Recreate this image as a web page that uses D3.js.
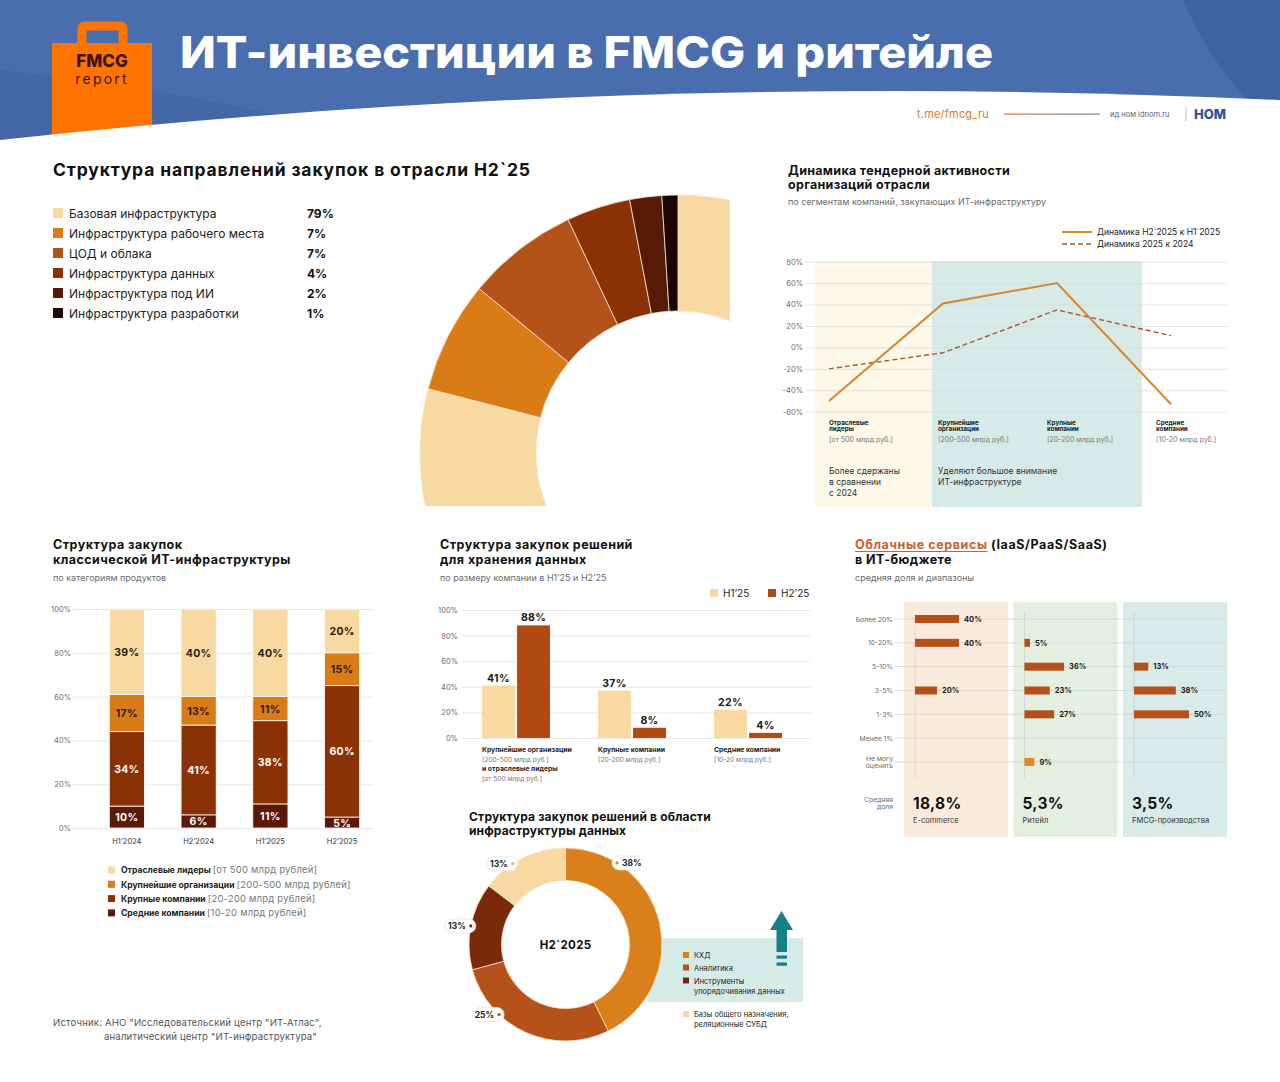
<!DOCTYPE html>
<html><head><meta charset="utf-8">
<script src="https://cdn.jsdelivr.net/npm/d3@7"></script>
<style>
body{margin:0;background:#fff}
svg{display:block}
text{font-family:Inter,"Noto Sans",sans-serif}
</style>
</head><body>
<svg id="c" width="1280" height="1082"></svg>
<script>
// ---------------- DATA ----------------
const directions = ["Базовая инфраструктура","Инфраструктура рабочего места","ЦОД и облака","Инфраструктура данных","Инфраструктура под ИИ","Инфраструктура разработки"];
const directionShares = [79,7,7,4,2,1];

const tenderSegments = ["Отраслевые лидеры","Крупнейшие организации","Крупные компании","Средние компании"];
const tenderSegLines = [["Отраслевые","лидеры"],["Крупнейшие","организации"],["Крупные","компании"],["Средние","компании"]];
const tenderSegRanges = ["[от 500 млрд руб.]","[200-500 млрд руб.]","[20-200 млрд руб.]","[10-20 млрд руб.]"];
const tenderH2vsH1 = [-50,41,60,-53];
const tender2025vs2024 = [-20,-5,35,11];
const tenderTicks = [80,60,40,20,0,-20,-40,-60];
const tenderLegend = ["Динамика H2`2025 к H1`2025","Динамика 2025 к 2024"];

const periods = ["H1’2024","H2’2024","H1’2025","H2’2025"];
const classicMid = [10,6,11,5];
const classicLarge = [34,41,38,60];
const classicLargest = [17,13,11,15];
const classicLeaders = [39,40,40,20];
const classicLegendNames = ["Отраслевые лидеры","Крупнейшие организации","Крупные компании","Средние компании"];
const classicLegendRanges = ["[от 500 млрд рублей]","[200-500 млрд рублей]","[20-200 млрд рублей]","[10-20 млрд рублей]"];
const pctTicks = [0,20,40,60,80,100];

const storageGroups = ["Крупнейшие организации","Крупные компании","Средние компании"];
const storageSeries = ["H1’25","H2’25"];
const storageH1 = [41,37,22];
const storageH2 = [88,8,4];

const cloudRanges = ["Более 20%","10-20%","5-10%","3-5%","1-3%","Менее 1%","Не могу оценить"];
const cloudSectors = ["E-commerce","Ритейл","FMCG-производства"];
const cloudEcom = [40,40,null,20,null,null,null];
const cloudRetail = [null,5,36,23,27,null,9];
const cloudFmcg = [null,null,13,38,50,null,null];
const cloudAvg = ["18,8%","5,3%","3,5%"];

const dataInfraCats = ["КХД","Аналитика","Инструменты упорядочивания данных","Базы общего назначения, реляционные СУБД"];
const dataInfraShares = [38,25,13,13];

// ---------------- STYLE ----------------
const C = {beige:"#F8D9A2", orange:"#D97C18", rust:"#B3531A", brown:"#8A3206", dark:"#561A07", black:"#1C0604"};
const dirColors = [C.beige,C.orange,C.rust,C.brown,C.dark,C.black];
const svg = d3.select("#c");
const gray = "#6b6b6b";
const LS = 0.45; // title letter spacing

// ---------------- HEADER ----------------
const hdr = svg.append("g");
hdr.append("rect").attr("x",0).attr("y",0).attr("width",1280).attr("height",150).attr("fill","#4A6EAD");
hdr.append("path").attr("d","M0,70 Q200,90 420,150 L0,150 Z").attr("fill","#4467A8");
hdr.append("circle").attr("cx",1480).attr("cy",-120).attr("r",320).attr("fill","#3F62A3");
hdr.append("rect").attr("x",82).attr("y",26).attr("width",41).attr("height",30).attr("rx",2)
  .attr("fill","none").attr("stroke","#FF7300").attr("stroke-width",9);
hdr.append("rect").attr("x",52).attr("y",43).attr("width",100).attr("height",100).attr("fill","#FF7300");
hdr.append("text").attr("x",102).attr("y",67).attr("text-anchor","middle").attr("font-size",17).attr("font-weight",800)
  .attr("fill","#3B1408").text("FMCG");
hdr.append("text").attr("x",102).attr("y",84).attr("text-anchor","middle").attr("font-size",14).attr("letter-spacing",2.2)
  .attr("fill","#3B1408").text("report");
svg.append("path").attr("d","M0,140 Q640,70 1280,100 L1280,160 L0,160 Z").attr("fill","#fff");
svg.append("text").attr("x",180).attr("y",68).attr("font-size",44).attr("font-weight",800).attr("fill","#fff")
  .attr("textLength",813).attr("lengthAdjust","spacingAndGlyphs").text("ИТ-инвестиции в FMCG и ритейле");
svg.append("text").attr("x",917).attr("y",118).attr("font-size",11).attr("fill","#E07A32").attr("letter-spacing",0.2).text("t.me/fmcg_ru");
const lg = svg.append("defs").append("linearGradient").attr("id","lnG");
lg.append("stop").attr("offset","0").attr("stop-color","#E07A32");
lg.append("stop").attr("offset","1").attr("stop-color","#6D82B0");
svg.append("rect").attr("x",1004).attr("y",113.5).attr("width",96).attr("height",1.2).attr("fill","url(#lnG)");
svg.append("text").attr("x",1110).attr("y",117).attr("font-size",7.5).attr("fill","#4f5f80").text("ид ном idnom.ru");
svg.append("line").attr("x1",1186).attr("x2",1186).attr("y1",107).attr("y2",121).attr("stroke","#b8c0d0");
svg.append("text").attr("x",1194).attr("y",119).attr("font-size",13).attr("font-weight",800).attr("fill","#2F5193").text("НОМ");

// ---------------- SECTION 1: half donut ----------------
svg.append("text").attr("x",53).attr("y",176).attr("font-size",17.5).attr("font-weight",700).attr("fill","#111")
  .attr("textLength",477).attr("lengthAdjust","spacing")
  .text("Структура направлений закупок в отрасли H2`25");
const leg1 = svg.append("g");
directions.forEach((d,i)=>{
  const y = 213 + i*20;
  leg1.append("rect").attr("x",53).attr("y",y-5).attr("width",10).attr("height",10).attr("fill",dirColors[i]);
  leg1.append("text").attr("x",69).attr("y",y+4.5).attr("font-size",12).attr("fill","#222").text(d);
  leg1.append("text").attr("x",307).attr("y",y+4.5).attr("font-size",12).attr("font-weight",700).attr("fill","#111").text(directionShares[i]+"%");
});
svg.append("clipPath").attr("id","hc").append("rect").attr("x",400).attr("y",180).attr("width",330).attr("height",326);
const pie1 = d3.pie().sort(null).value(d=>d)(directionShares);
const arc1 = d3.arc().innerRadius(142).outerRadius(258);
svg.append("g").attr("clip-path","url(#hc)").append("g").attr("transform","translate(678,453)")
  .selectAll("path").data(pie1).join("path").attr("d",arc1).attr("fill",(d,i)=>dirColors[i])
  .attr("stroke","#f6e3c8").attr("stroke-width",0.8);

// ---------------- SECTION 2: line chart ----------------
const s2 = svg.append("g");
s2.append("text").attr("x",788).attr("y",175).attr("font-size",12.5).attr("font-weight",700).attr("letter-spacing",0.3).attr("fill","#111").text("Динамика тендерной активности");
s2.append("text").attr("x",788).attr("y",189).attr("font-size",12.5).attr("font-weight",700).attr("letter-spacing",0.3).attr("fill","#111").text("организаций отрасли");
s2.append("text").attr("x",788).attr("y",205).attr("font-size",9).attr("fill",gray).text("по сегментам компаний, закупающих ИТ-инфраструктуру");
const ly = d3.scaleLinear().domain([-60,80]).range([411.7,261.7]);
const lx = d3.scalePoint().domain(tenderSegments).range([829,1171]);
s2.append("rect").attr("x",815).attr("y",261).attr("width",117).attr("height",246).attr("fill","#FDF8E8");
s2.append("rect").attr("x",932).attr("y",261).attr("width",210).attr("height",246).attr("fill","#D6EAE7");
const lax = d3.axisLeft(ly).tickValues(tenderTicks).tickSize(-422).tickFormat(d=>d+"%");
const lag = s2.append("g").attr("transform","translate(805,0)").call(lax);
lag.select(".domain").remove();
lag.selectAll("line").attr("stroke","#dadada").attr("stroke-width",0.8);
lag.selectAll("text").attr("x",-2).attr("font-size",7.5).attr("fill",gray).attr("font-family","Inter");
const line = d3.line().x((d,i)=>lx(tenderSegments[i])).y(d=>ly(d));
s2.append("path").datum(tender2025vs2024).attr("d",line).attr("fill","none").attr("stroke","#B0552A").attr("stroke-width",1.4).attr("stroke-dasharray","5,3");
s2.append("path").datum(tenderH2vsH1).attr("d",line).attr("fill","none").attr("stroke","#D9862A").attr("stroke-width",2);
s2.append("line").attr("x1",1062).attr("x2",1092).attr("y1",232).attr("y2",232).attr("stroke","#D9862A").attr("stroke-width",2);
s2.append("line").attr("x1",1062).attr("x2",1092).attr("y1",244).attr("y2",244).attr("stroke","#B0552A").attr("stroke-width",1.6).attr("stroke-dasharray","5,3");
tenderLegend.forEach((t,i)=>s2.append("text").attr("x",1097).attr("y",235+i*12).attr("font-size",8.5).attr("fill","#222").text(t));
tenderSegments.forEach((s,i)=>{
  const x = lx(s) - i*5;
  tenderSegLines[i].forEach((t,j)=>s2.append("text").attr("x",x).attr("y",424.5+j*6).attr("font-size",6.3).attr("font-weight",700).attr("fill","#222").text(t));
  s2.append("text").attr("x",x).attr("y",441.5).attr("font-size",7).attr("fill","#777").text(tenderSegRanges[i]);
});
["Более сдержаны","в сравнении","с 2024"].forEach((t,j)=>s2.append("text").attr("x",lx(tenderSegments[0])).attr("y",474+j*11).attr("font-size",8.5).attr("fill","#333").text(t));
["Уделяют большое внимание","ИТ-инфраструктуре"].forEach((t,j)=>s2.append("text").attr("x",lx(tenderSegments[1])-5).attr("y",474+j*11).attr("font-size",8.5).attr("fill","#333").text(t));

// ---------------- SECTION 3: stacked bars ----------------
const s3 = svg.append("g");
s3.append("text").attr("x",53).attr("y",549).attr("font-size",12.5).attr("font-weight",700).attr("letter-spacing",LS).attr("fill","#111").text("Структура закупок");
s3.append("text").attr("x",53).attr("y",564).attr("font-size",12.5).attr("font-weight",700).attr("letter-spacing",LS).attr("fill","#111").text("классической ИТ-инфраструктуры");
s3.append("text").attr("x",53).attr("y",581).attr("font-size",9).attr("fill",gray).text("по категориям продуктов");
const sy = d3.scaleLinear().domain([0,100]).range([828,609]);
const sx = d3.scaleBand().domain(periods).range([91,378]).paddingInner(0.51).paddingOuter(0.255);
const sax = s3.append("g").attr("transform","translate(73,0)").call(d3.axisLeft(sy).tickValues(pctTicks).tickSize(-300).tickFormat(d=>d+"%"));
sax.select(".domain").remove();
sax.selectAll("line").attr("stroke","#e0e0e0").attr("stroke-width",0.8);
sax.selectAll("text").attr("x",-2).attr("font-size",7.5).attr("fill",gray).attr("font-family","Inter");
const stackRows = periods.map((p,i)=>({p, mid:classicMid[i], large:classicLarge[i], largest:classicLargest[i], leaders:classicLeaders[i]}));
const keys = ["mid","large","largest","leaders"];
const keyColors = {mid:"#5A1A07", large:"#8A3206", largest:"#D97C18", leaders:C.beige};
const keyText = {mid:"#fff", large:"#fff", largest:"#2a1a10", leaders:"#2a1a10"};
const stacked = d3.stack().keys(keys)(stackRows);
stacked.forEach(layer=>{
  const g = s3.append("g");
  g.selectAll("rect").data(layer).join("rect")
    .attr("x",d=>sx(d.data.p)).attr("width",sx.bandwidth())
    .attr("y",d=>sy(d[1])).attr("height",d=>sy(d[0])-sy(d[1]))
    .attr("fill",keyColors[layer.key]).attr("stroke","#fff").attr("stroke-width",0.8);
  g.selectAll("text").data(layer).join("text")
    .attr("x",d=>sx(d.data.p)+sx.bandwidth()/2).attr("y",d=>(sy(d[0])+sy(d[1]))/2+4)
    .attr("text-anchor","middle").attr("font-size",10.5).attr("font-weight",700).attr("letter-spacing",0.3).attr("fill",keyText[layer.key])
    .text(d=>d.data[layer.key]+"%");
});
periods.forEach(p=>s3.append("text").attr("x",sx(p)+sx.bandwidth()/2).attr("y",844).attr("text-anchor","middle").attr("font-size",7.5).attr("fill","#333").text(p));
const legCols = [C.beige,"#D97C18","#8A3206","#5A1A07"];
classicLegendNames.forEach((n,i)=>{
  const y = 870 + i*14.3;
  s3.append("rect").attr("x",108).attr("y",y-3.5).attr("width",7).attr("height",7).attr("fill",legCols[i]);
  const t = s3.append("text").attr("x",121).attr("y",y+3.2);
  t.append("tspan").attr("font-size",8.6).attr("font-weight",700).attr("fill","#222").text(n+" ");
  t.append("tspan").attr("font-size",9.5).attr("letter-spacing",0.2).attr("fill","#777").text(classicLegendRanges[i]);
});

// ---------------- SECTION 4: grouped bars ----------------
const s4 = svg.append("g");
s4.append("text").attr("x",440).attr("y",549).attr("font-size",12.5).attr("font-weight",700).attr("letter-spacing",LS).attr("fill","#111").text("Структура закупок решений");
s4.append("text").attr("x",440).attr("y",564).attr("font-size",12.5).attr("font-weight",700).attr("letter-spacing",LS).attr("fill","#111").text("для хранения данных");
s4.append("text").attr("x",440).attr("y",581).attr("font-size",9).attr("fill",gray).text("по размеру компании в H1’25 и H2’25");
const gy = d3.scaleLinear().domain([0,100]).range([738,610]);
const gx0 = d3.scaleBand().domain(storageGroups).range([462,810]);
const gx1 = d3.scaleBand().domain(storageSeries).range([20,88]).paddingInner(0.06);
const gax = s4.append("g").attr("transform","translate(462,0)").call(d3.axisLeft(gy).tickValues(pctTicks).tickSize(-348).tickFormat(d=>d+"%"));
gax.select(".domain").remove();
gax.selectAll("line").attr("stroke","#e0e0e0").attr("stroke-width",0.8);
gax.selectAll("text").attr("x",-4).attr("font-size",7.5).attr("fill",gray).attr("font-family","Inter");
const serCol = {"H1’25":C.beige, "H2’25":"#B04A12"};
storageGroups.forEach((g,i)=>{
  [storageH1[i],storageH2[i]].forEach((v,j)=>{
    const s = storageSeries[j];
    const x = gx0(g)+gx1(s);
    s4.append("rect").attr("x",x).attr("width",gx1.bandwidth()).attr("y",gy(v)).attr("height",gy(0)-gy(v)).attr("fill",serCol[s]);
    s4.append("text").attr("x",x+gx1.bandwidth()/2).attr("y",gy(v)-4).attr("text-anchor","middle").attr("font-size",10.5).attr("font-weight",700).attr("letter-spacing",0.3).attr("fill","#1a1a1a").text(v+"%");
  });
});
const gLbl = [["Крупнейшие организации","[200-500 млрд руб.]","и отраслевые лидеры","[от 500 млрд руб.]"],["Крупные компании","[20-200 млрд руб.]"],["Средние компании","[10-20 млрд руб.]"]];
storageGroups.forEach((g,i)=>{
  gLbl[i].forEach((t,j)=>s4.append("text").attr("x",gx0(g)+20).attr("y",752+j*9.7).attr("font-size",j%2?6.6:6.8)
    .attr("font-weight",j%2?400:700).attr("fill",j%2?"#777":"#222").text(t));
});
storageSeries.forEach((s,i)=>{
  const x = 710 + i*58;
  s4.append("rect").attr("x",x).attr("y",589).attr("width",8).attr("height",8).attr("fill",serCol[s]);
  s4.append("text").attr("x",x+13).attr("y",596.5).attr("font-size",10).attr("fill","#222").text(s);
});

// ---------------- SECTION 5: cloud ----------------
const s5 = svg.append("g");
const ct = s5.append("text").attr("x",855).attr("y",549).attr("font-size",12.5).attr("font-weight",700).attr("letter-spacing",0.6);
const ctA = ct.append("tspan").attr("fill","#C8642A").text("Облачные сервисы");
ct.append("tspan").attr("fill","#111").text(" (IaaS/PaaS/SaaS)");
const ulw = ctA.node().getComputedTextLength();
s5.append("line").attr("x1",855).attr("x2",855+ulw).attr("y1",551.5).attr("y2",551.5).attr("stroke","#C8642A").attr("stroke-width",1.1);
s5.append("text").attr("x",855).attr("y",564).attr("font-size",12.5).attr("font-weight",700).attr("letter-spacing",LS).attr("fill","#111").text("в ИТ-бюджете");
s5.append("text").attr("x",855).attr("y",581).attr("font-size",9).attr("fill",gray).text("средняя доля и диапазоны");
const px = d3.scaleBand().domain(cloudSectors).range([904,1227]).paddingInner(0.05);
const ry = d3.scalePoint().domain(cloudRanges).range([619,762]);
const bw = d3.scaleLinear().domain([0,100]).range([0,110]);
const panelCol = ["#FBEBDC","#E4F0DF","#D8EBE9"];
cloudSectors.forEach((s,i)=>s5.append("rect").attr("x",px(s)).attr("y",602).attr("width",px.bandwidth()).attr("height",235).attr("fill",panelCol[i]));
cloudRanges.forEach(r=>{
  s5.append("line").attr("x1",895).attr("x2",1225).attr("y1",ry(r)).attr("y2",ry(r)).attr("stroke","#cfcfcf").attr("stroke-width",0.7);
  const parts = r==="Не могу оценить" ? ["Не могу","оценить"] : [r];
  parts.forEach((t,j)=>s5.append("text").attr("x",893).attr("y",ry(r)+2.5+(parts.length>1?(j*7-3.5):0)).attr("text-anchor","end").attr("font-size",6.8).attr("fill",gray).text(t));
});
["Средняя","доля"].forEach((t,j)=>s5.append("text").attr("x",893).attr("y",802+j*7).attr("text-anchor","end").attr("font-size",6.8).attr("fill",gray).text(t));
[cloudEcom,cloudRetail,cloudFmcg].forEach((vals,i)=>{
  const x0 = px(cloudSectors[i]) + 11;
  s5.append("line").attr("x1",x0).attr("x2",x0).attr("y1",613).attr("y2",778).attr("stroke","#c8c8c8").attr("stroke-width",0.7);
  vals.forEach((v,k)=>{
    if(v==null) return;
    const r = cloudRanges[k];
    s5.append("rect").attr("x",x0).attr("y",ry(r)-4).attr("width",bw(v)).attr("height",8).attr("fill",r==="Не могу оценить"?"#E08A1E":"#B5501A");
    s5.append("text").attr("x",x0+bw(v)+5).attr("y",ry(r)+2.7).attr("font-size",7.5).attr("font-weight",700).attr("fill","#1a1a1a").text(v+"%");
  });
  s5.append("text").attr("x",x0-2).attr("y",809).attr("font-size",15.5).attr("font-weight",700).attr("letter-spacing",0.3).attr("fill","#111").text(cloudAvg[i]);
  s5.append("text").attr("x",x0-2).attr("y",823).attr("font-size",7.5).attr("fill","#333").text(cloudSectors[i]);
});

// ---------------- SECTION 6: data infra donut ----------------
const s6 = svg.append("g");
s6.append("text").attr("x",469).attr("y",821).attr("font-size",12).attr("font-weight",700).attr("letter-spacing",0.15).attr("fill","#111").text("Структура закупок решений в области");
s6.append("text").attr("x",469).attr("y",835).attr("font-size",12).attr("font-weight",700).attr("letter-spacing",0.15).attr("fill","#111").text("инфраструктуры данных");
s6.append("rect").attr("x",647).attr("y",938).attr("width",156).attr("height",64).attr("fill","#D6EAE8");
const dCols = ["#D9801A","#B5521A","#7A2A08",C.beige];
const pie2 = d3.pie().sort(null).value(d=>d)(dataInfraShares);
const R2 = 96.5, r2 = 64, cx2 = 565.5, cy2 = 944.5;
const arc2 = d3.arc().innerRadius(r2).outerRadius(R2);
const dg = s6.append("g").attr("transform",`translate(${cx2},${cy2})`);
dg.selectAll("path").data(pie2).join("path").attr("d",arc2).attr("fill",(d,i)=>dCols[i]).attr("stroke","#f6e3c8").attr("stroke-width",0.8);
dg.append("text").attr("y",4).attr("text-anchor","middle").attr("font-size",11.5).attr("font-weight",700).attr("letter-spacing",0.3).attr("fill","#111").text("H2`2025");
const labelFrac = [0.21,0.69,0.5,0.37];
pie2.forEach((d,i)=>{
  const a = d.startAngle + (d.endAngle-d.startAngle)*labelFrac[i];
  const dx = Math.sin(a)*R2, dy = -Math.cos(a)*R2;
  const right = dx > 0;
  const w = 31, h = 14;
  const rx = right ? dx-5 : dx+5-w;
  dg.append("rect").attr("x",rx).attr("y",dy-h/2).attr("width",w).attr("height",h).attr("rx",7)
    .attr("fill","#fff").attr("stroke","#e4e4e4").attr("stroke-width",0.8);
  dg.append("circle").attr("cx",dx).attr("cy",dy).attr("r",1.6).attr("fill",dCols[i]==C.beige?"#E8B060":dCols[i]);
  dg.append("text").attr("x",right?dx+5:dx-5).attr("y",dy+3).attr("text-anchor",right?"start":"end")
    .attr("font-size",8.5).attr("font-weight",700).attr("fill","#222").text(d.data+"%");
});
const legLines = [["КХД"],["Аналитика"],["Инструменты","упорядочивания данных"],["Базы общего назначения,","реляционные СУБД"]];
const legY = [955,967.5,980.5,1014];
legLines.forEach((ls,i)=>{
  s6.append("rect").attr("x",683).attr("y",legY[i]-3).attr("width",6).attr("height",6).attr("fill",dCols[i]);
  ls.forEach((t,j)=>s6.append("text").attr("x",694).attr("y",legY[i]+3+j*10).attr("font-size",7.5).attr("fill","#222").text(t));
});
const ar = s6.append("g").attr("fill","#14808A");
ar.append("path").attr("d","M770,930 L781.5,911 L793,930 Z");
ar.append("rect").attr("x",776.5).attr("y",929).attr("width",10.5).attr("height",23);
ar.append("rect").attr("x",776.5).attr("y",955.5).attr("width",10.5).attr("height",3.2);
ar.append("rect").attr("x",776.5).attr("y",962.5).attr("width",10.5).attr("height",3.2);

// ---------------- FOOTER ----------------
svg.append("text").attr("x",53).attr("y",1026).attr("font-size",9.6).attr("letter-spacing",0.15).attr("fill","#555").text("Источник: АНО \"Исследовательский центр \"ИТ-Атлас\",");
svg.append("text").attr("x",104).attr("y",1040).attr("font-size",9.6).attr("letter-spacing",0.15).attr("fill","#555").text("аналитический центр \"ИТ-инфраструктура\"");
</script>
</body></html>
